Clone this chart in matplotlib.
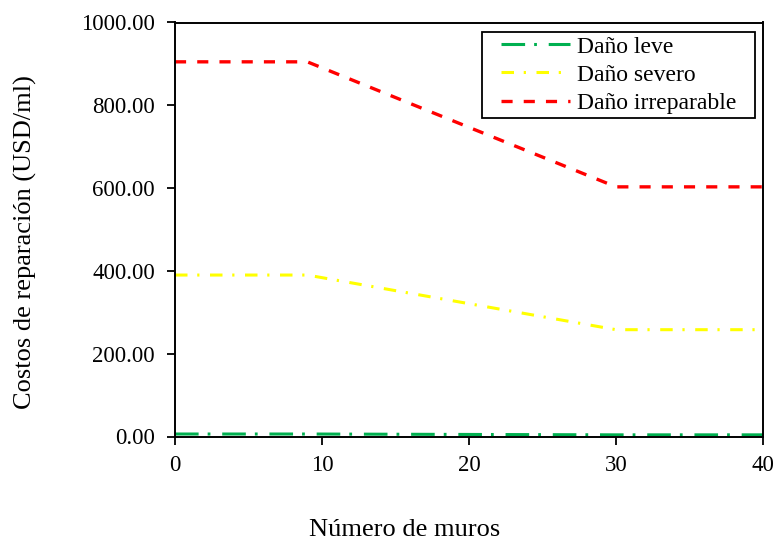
import matplotlib
matplotlib.use("Agg")
import matplotlib.pyplot as plt
from matplotlib.ticker import FormatStrFormatter
from matplotlib.patches import Rectangle

plt.rcParams['font.family'] = ['Liberation Serif', 'DejaVu Serif']
plt.rcParams['lines.scale_dashes'] = False

# Number of walls at each break point
muros = [0, 9, 30, 40]
# Repair costs (USD/ml) per damage level
leve = [6, 6, 4, 4]
severo = [390, 390, 258, 258]
irreparable = [905, 905, 603, 603]

labels = ["Daño leve", "Daño severo", "Daño irreparable"]

W, H = 778, 540
fig = plt.figure(figsize=(W / 100, H / 100), dpi=100)
ax = fig.add_axes([175 / W, 1 - 436.5 / H, 588 / W, 414 / H])

ax.plot(muros, leve, color="#00b050", lw=2.2, dashes=(17, 6.5, 2, 8.5), label=labels[0])
ax.plot(muros, severo, color="#ffff00", lw=2.2, dashes=(9, 7, 1.6, 7.6), label=labels[1])
ax.plot(muros, irreparable, color="#ff0000", lw=2.4, dashes=(8, 8), label=labels[2])

ax.set_xlim(0, 40)
ax.set_ylim(0, 1000)
ax.set_xticks([0, 10, 20, 30, 40])
ax.set_yticks([0, 200, 400, 600, 800, 1000])
ax.yaxis.set_major_formatter(FormatStrFormatter("%.2f"))
ax.tick_params(direction="out", length=5.5, width=1.3, labelsize=16.5)
ax.tick_params(axis="x", pad=8)
ax.tick_params(axis="y", pad=9)

for s in ax.spines.values():
    s.set_linewidth(1.4)

fig.text(405 / W, 1 - 536 / H, "Número de muros", fontsize=19,
         ha="center", va="baseline")
fig.text(25 / W, 1 - 242 / H, "Costos de reparación (USD/ml)", fontsize=19,
         rotation=90, ha="center", va="center")

leg = ax.legend(loc="upper left", bbox_to_anchor=(501 / W, 1 - 36 / H),
                bbox_transform=fig.transFigure, fontsize=17, frameon=False,
                handlelength=2.92, borderaxespad=0, borderpad=0,
                labelspacing=0.28, handletextpad=0.3)

# Box around the legend, wider on the sides than above and below
fig.canvas.draw()
bb = leg.get_window_extent(fig.canvas.get_renderer())
px, py = 19, 4
fig.patches.append(Rectangle((bb.x0 - px, bb.y0 - py), bb.width + 2 * px,
                             bb.height + 2 * py, transform=None, fill=False,
                             edgecolor="black", linewidth=1.3, zorder=5))

fig.savefig("out.png", dpi=100)
